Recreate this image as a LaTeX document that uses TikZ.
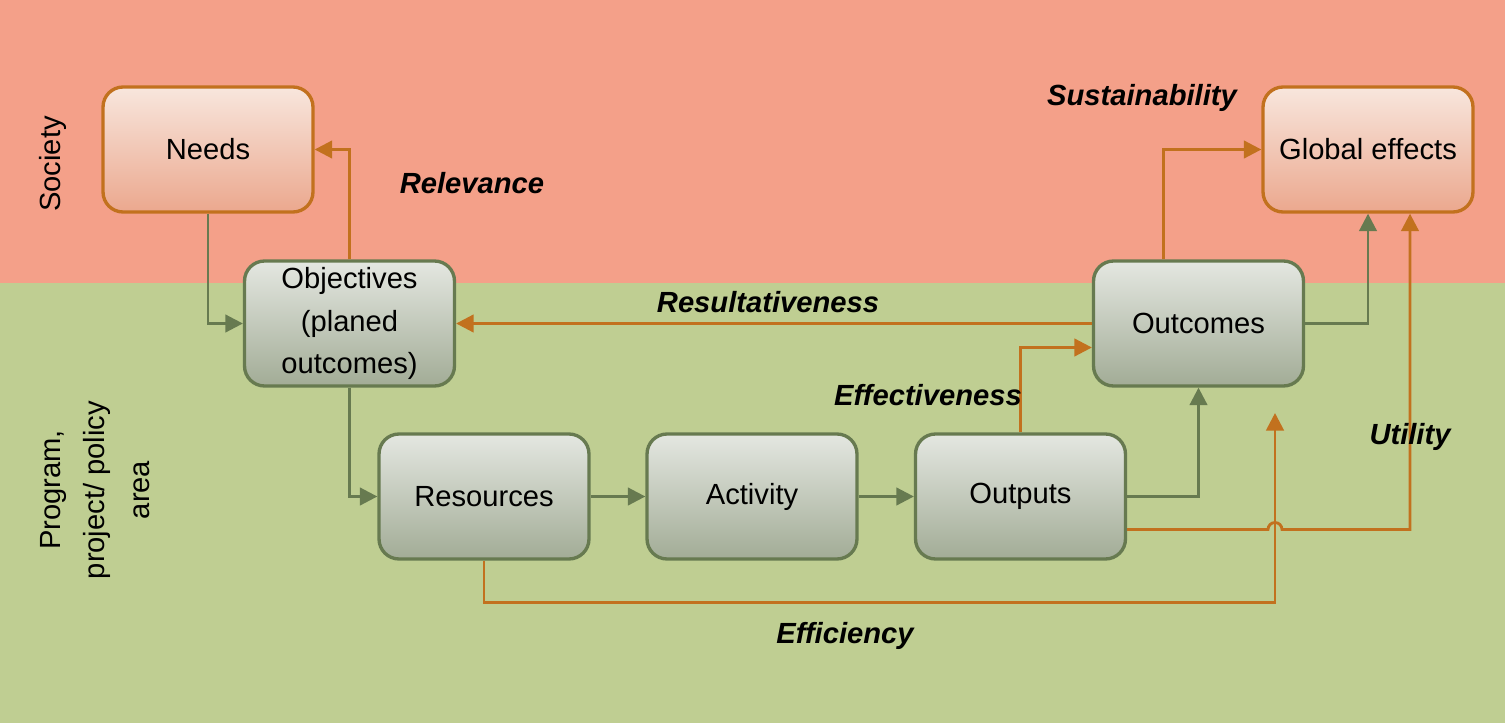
\documentclass[tikz,border=0pt]{standalone}
\usepackage{fontspec}
\setmainfont{Liberation Sans}
\usetikzlibrary{arrows.meta,calc}

\definecolor{societybg}{HTML}{F4A089}
\definecolor{programbg}{HTML}{BFCE92}
\definecolor{orangeline}{HTML}{C2711E}
\definecolor{greenline}{HTML}{677A50}
\definecolor{gtop}{HTML}{E4E7E1}
\definecolor{gbot}{HTML}{A2AC96}
\definecolor{otop}{HTML}{F8E6DD}
\definecolor{obot}{HTML}{EBA88E}

\tikzset{
  box/.style={rounded corners=0.4cm, minimum width=4.2cm, minimum height=2.5cm,
    align=center, line width=1.9pt, font=\fontsize{16.6}{24.4}\selectfont, inner sep=2pt},
  greenbox/.style={box, draw=greenline, top color=gtop, bottom color=gbot},
  orangebox/.style={box, draw=orangeline, top color=otop, bottom color=obot},
  conn/.style={line width=1.6pt, -{Triangle[length=10pt,width=10pt]}},
  garrow/.style={conn, draw=greenline, color=greenline},
  oarrow/.style={conn, draw=orangeline, color=orangeline},
  crit/.style={font=\fontsize{16.6}{20}\selectfont\bfseries\itshape},
  area/.style={rotate=90, align=center, font=\fontsize{16.6}{25.5}\selectfont}
}

\begin{document}
\begin{tikzpicture}[x=0.02cm, y=-0.02cm]
  % two bands: society on top, programme area below
  \fill[societybg] (0,0) rectangle (1505,283);
  \fill[programbg] (0,283) rectangle (1505,723);
  \useasboundingbox (0,0) rectangle (1505,723);

  \node[area] (society) at (53,164) {Society};
  \node[area] (program) at (95,490) {Program,\\project/ policy\\area};

  % boxes
  \node[orangebox] (needs)    at (208,149.5)   {Needs};
  \node[orangebox] (global)   at (1368,149.5)  {Global effects};
  \node[greenbox]  (obj)      at (349.5,323.5) {Objectives\\(planed\\outcomes)};
  \node[greenbox]  (outcomes) at (1198.5,323.5){Outcomes};
  \node[greenbox]  (res)      at (484,496.5)   {Resources};
  \node[greenbox]  (act)      at (752,496.5)   {Activity};
  \node[greenbox]  (outputs)  at (1020.5,496.5){Outputs};

  % main chain
  \draw[garrow] (needs.south) |- (obj.west);
  \draw[garrow] (obj.south) |- (res.west);
  \draw[garrow] (res.east) -- (act.west);
  \draw[garrow] (act.east) -- (outputs.west);
  \draw[garrow] (outputs.east) -| (outcomes.south);
  \draw[garrow] (outcomes.east) -| (global.south);

  % evaluation criteria
  \draw[oarrow] (obj.north) |- (needs.east);
  \draw[oarrow] (outcomes.west) -- (obj.east);
  \draw[oarrow] (outputs.north) |- ($(outcomes.west)+(0,24)$);
  \draw[oarrow] ($(outcomes.north)+(-35,0)$) |- (global.west);

  \coordinate (effend) at (1275,413);
  \draw[oarrow] (res.south) -- ++(0,42) -| (effend);

  \coordinate (ustart) at ($(outputs.east)+(0,33)$);
  \coordinate (uend) at ($(global.south)+(42,0)$);
  \coordinate (hopin) at ($(effend |- ustart)+(-7,0)$);
  \draw[oarrow] (ustart) -- (hopin) arc[start angle=180, end angle=360, radius=7]
    -| (uend);

  % labels
  \node[crit] (lrel) at (472,183) {Relevance};
  \node[crit] (lsus) at (1142,98) {Sustainability};
  \node[crit] (lres) at (768,302) {Resultativeness};
  \node[crit] (leff) at (928,395) {Effectiveness};
  \node[crit] (luti) at (1410,437) {Utility};
  \node[crit] (lefi) at (845,636) {Efficiency};
\end{tikzpicture}
\end{document}
